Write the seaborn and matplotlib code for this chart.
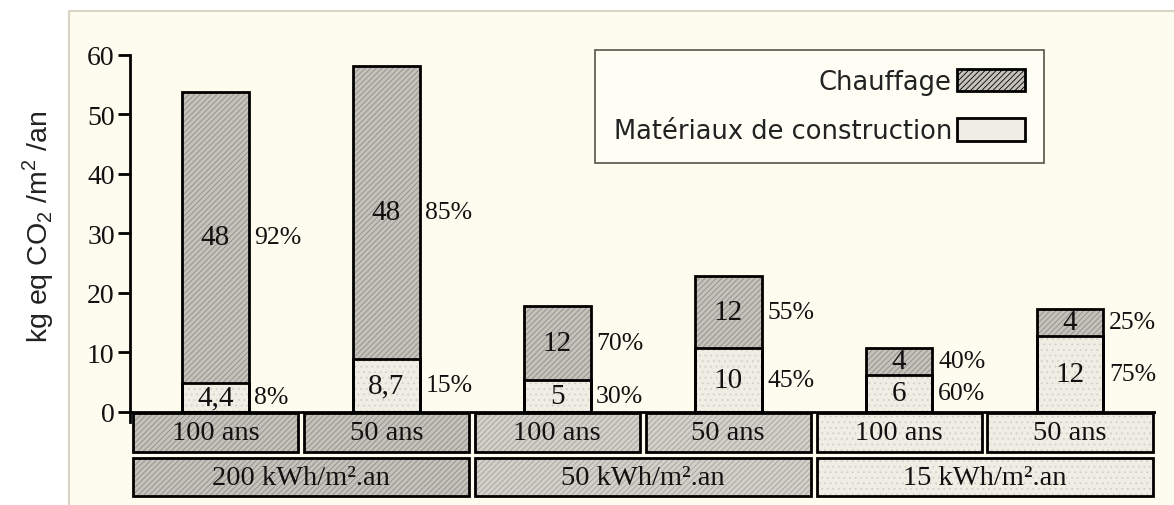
import numpy as np
import pandas as pd
import matplotlib
matplotlib.use("Agg")
import matplotlib.pyplot as plt
import seaborn as sns
from matplotlib.patches import Rectangle, Patch

# ---------------- data ----------------
levels = ["200 kWh/m².an", "50 kWh/m².an", "15 kWh/m².an"]
durations = ["100 ans", "50 ans", "100 ans", "50 ans", "100 ans", "50 ans"]
materials = [4.9, 8.9, 5.4, 10.8, 6.2, 12.8]
heating = [48.9, 49.3, 12.4, 12.1, 4.6, 4.5]
heating_labels = ["48", "48", "12", "12", "4", "4"]
materials_labels = ["4,4", "8,7", "5", "10", "6", "12"]
heating_pct = ["92%", "85%", "70%", "55%", "40%", "25%"]
materials_pct = ["8%", "15%", "30%", "45%", "60%", "75%"]
yticks = [0, 10, 20, 30, 40, 50, 60]

cats = [f"{levels[i // 2]} | {durations[i]}" for i in range(6)]
total = [m + h for m, h in zip(materials, heating)]
df = pd.DataFrame({"cat": cats, "total": total, "materials": materials})

# ---------------- style ----------------
sns.set_theme(style="white")
plt.rcParams["font.family"] = ["DejaVu Sans"]
plt.rcParams["hatch.linewidth"] = 0.6
SERIF = ["Liberation Serif", "DejaVu Serif"]

HEAT = "#c4c2ba"
HEAT_H = "#8f8d87"
MID = "#d2d0c8"
MID_H = "#a3a19b"
MAT = "#efede4"
MAT_H = "#d2d0c7"
CREAM = "#fefcee"
INK = "#111111"

W, H = 1174, 506
fig = plt.figure(figsize=(W / 100, H / 100), dpi=100, facecolor="white")
fig.add_artist(Rectangle((69 / W, -0.02), 1.1, 1 - 12 / H + 0.02, transform=fig.transFigure,
                         facecolor=CREAM, edgecolor="#d9d5c2", linewidth=1.5, zorder=0))

ax = fig.add_axes([130 / W, 1 - 423 / H, 1025.5 / W, 367 / H])
ax.patch.set_alpha(0)

sns.barplot(data=df, x="cat", y="total", order=cats, color=HEAT, saturation=1,
            width=0.39, linewidth=0, edgecolor=HEAT_H, errorbar=None, ax=ax)
sns.barplot(data=df, x="cat", y="materials", order=cats, color=MAT, saturation=1,
            width=0.39, linewidth=0, edgecolor=MAT_H, errorbar=None, ax=ax)

bars = list(ax.patches)
for k, p in enumerate(bars):
    if k < 6:
        p.set_hatch("//////")
        p.set_edgecolor(HEAT_H)
    else:
        p.set_hatch("...")
        p.set_edgecolor(MAT_H)
    p.set_linewidth(0)
    ax.add_patch(Rectangle(p.get_xy(), p.get_width(), p.get_height(), fill=False,
                           edgecolor="black", linewidth=2, zorder=3))

# annotations
heat_bars = bars[:6]
for i in range(6):
    hb = heat_bars[i]
    xr = hb.get_x() + hb.get_width()
    y_h = materials[i] + heating[i] / 2
    y_m = materials[i] / 2
    ax.text(i, y_h, heating_labels[i], ha="center", va="center", fontsize=21,
            family=SERIF, color=INK, zorder=4)
    ax.text(i, y_m, materials_labels[i], ha="center", va="center", fontsize=21,
            family=SERIF, color=INK, zorder=4)
    ax.annotate(heating_pct[i], (xr, y_h), xytext=(4, 0), textcoords="offset points",
                ha="left", va="center", fontsize=18.5, family=SERIF, color=INK)
    ax.annotate(materials_pct[i], (xr, y_m), xytext=(4, 0), textcoords="offset points",
                ha="left", va="center", fontsize=18.5, family=SERIF, color=INK)

# category boxes under the axis
row1_fc = [HEAT, HEAT, MID, MID, MAT, MAT]
row1_hc = [HEAT_H, HEAT_H, MID_H, MID_H, MAT_H, MAT_H]
for i in range(6):
    ax.add_patch(Rectangle((i - 0.483, -6.72), 0.966, 6.55, facecolor=row1_fc[i], edgecolor=row1_hc[i],
                           hatch="//////" if i < 4 else "...", linewidth=0, clip_on=False, zorder=2))
    ax.add_patch(Rectangle((i - 0.483, -6.72), 0.966, 6.55, fill=False, edgecolor="black",
                           linewidth=2, clip_on=False, zorder=3))
    ax.text(i, -3.5, durations[i], ha="center", va="center", fontsize=20.5, family=SERIF,
            color=INK, clip_on=False, zorder=4)
row2_fc = [HEAT, MID, MAT]
row2_hc = [HEAT_H, MID_H, MAT_H]
for j in range(3):
    x0 = 2 * j - 0.483
    ax.add_patch(Rectangle((x0, -14.1), 1.966, 6.37, facecolor=row2_fc[j], edgecolor=row2_hc[j],
                           hatch="//////" if j < 2 else "...", linewidth=0, clip_on=False, zorder=2))
    ax.add_patch(Rectangle((x0, -14.1), 1.966, 6.37, fill=False, edgecolor="black",
                           linewidth=2, clip_on=False, zorder=3))
    ax.text(2 * j + 0.5, -10.95, levels[j], ha="center", va="center", fontsize=20.5, family=SERIF,
            color=INK, clip_on=False, zorder=4)

ax.axhline(0, color="black", linewidth=2, zorder=3)

# axes styling
ax.set_xlim(-0.5, 5.5)
ax.set_ylim(-1.7, 60)
ax.set_xticks([])
ax.set_xlabel("")
ax.set_ylabel("")
ax.set_yticks(yticks)
ax.set_yticklabels([str(t) for t in yticks], family=SERIF, fontsize=20, color=INK)
ax.tick_params(axis="y", direction="out", length=9, width=2, color="black", pad=2, left=True)
for s in ["top", "right", "bottom"]:
    ax.spines[s].set_visible(False)
ax.spines["left"].set_color("black")
ax.spines["left"].set_linewidth(2)

# legend (text before the swatch)
handles = [Patch(facecolor=HEAT, edgecolor="black", linewidth=2, hatch="//////"),
           Patch(facecolor=MAT, edgecolor="black", linewidth=2)]
leg = ax.legend(handles, ["Chauffage", "Matériaux de construction"], markerfirst=False,
                loc="upper left", bbox_to_anchor=(595 / W, 1 - 51 / H), bbox_transform=fig.transFigure,
                frameon=True, fancybox=False, edgecolor="#55534a", facecolor="#fffef4", framealpha=1,
                fontsize=18.5, borderpad=0.72, handlelength=2.65, handleheight=1.0, labelspacing=0.9,
                handletextpad=0.2, borderaxespad=0)
leg.get_frame().set_linewidth(1.2)
for t in leg.get_texts():
    t.set_color("#222")

fig.text(38 / W, 1 - 227 / H, r"kg eq CO$_\mathregular{2}$ /m$^\mathregular{2}$ /an", rotation=90,
         ha="center", va="center", fontsize=20.5, color="#222", family=["Liberation Sans"])

fig.savefig("out.png", dpi=100, facecolor="white")
